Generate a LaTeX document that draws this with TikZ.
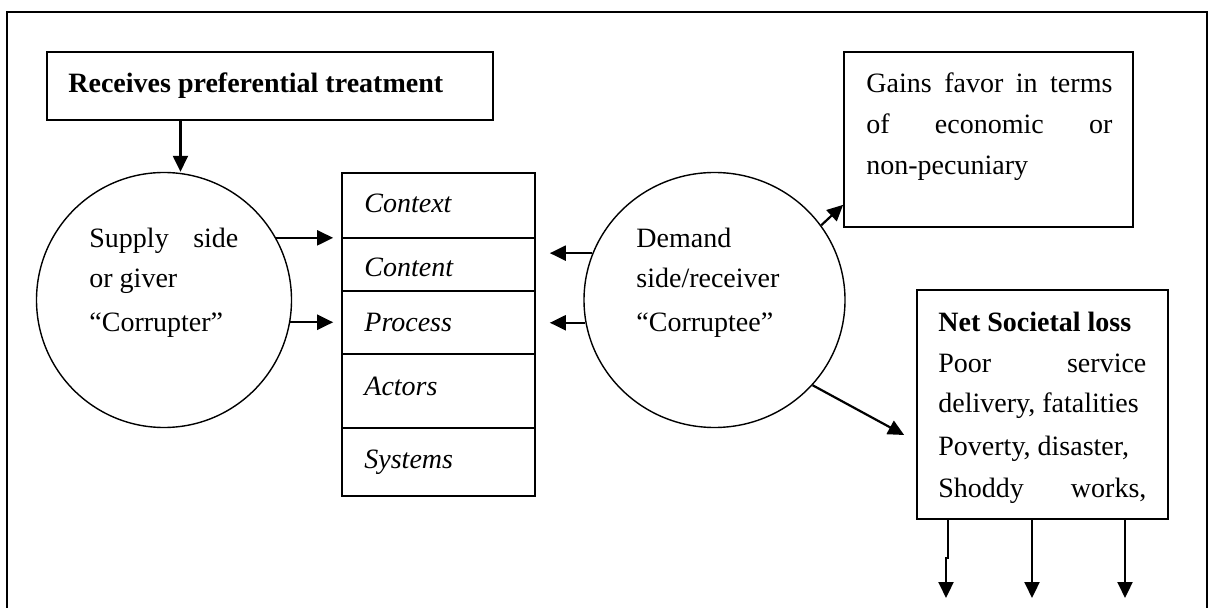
\documentclass[tikz,border=0pt]{standalone}
\usepackage{fontspec}
\setmainfont{Liberation Serif}
\usetikzlibrary{arrows.meta,calc,fit,shapes.geometric}
\begin{document}
\begin{tikzpicture}[x=0.5pt,y=-0.5pt,
  box/.style={draw,line width=0.85pt,inner sep=0pt},
  ring/.style={draw,line width=0.7pt,inner sep=0pt},
  arr/.style={line width=1.1pt,-{Triangle[length=8pt,width=7.5pt]}},
  txt/.style={anchor=base west,inner sep=0pt,font=\fontsize{14}{16}\selectfont},
  btxt/.style={txt,font=\fontsize{14}{16}\selectfont\bfseries},
  itxt/.style={txt,font=\fontsize{14}{16}\selectfont\itshape},
]
\useasboundingbox (0,0) rectangle (1213,608);
\draw[line width=0.75pt] (7,608) -- (7,12) -- (1207,12) -- (1207,608);

% boxes
\node[box,fit={(47,52) (493,120)}] (top) {};
\node[box,fit={(844,52) (1133,227)}] (gain) {};
\node[box,fit={(917,290) (1168,519)}] (net) {};
\node[box,fit={(342,173) (535,238)}] (ctx) {};
\node[box,fit={(342,238) (535,291)}] (cnt) {};
\node[box,fit={(342,291) (535,354)}] (prc) {};
\node[box,fit={(342,354) (535,428)}] (act) {};
\node[box,fit={(342,428) (535,496)}] (sys) {};

% circles
\node[ring,circle,minimum size=127.5pt] (sup) at (164,300) {};
\node[ring,ellipse,minimum width=130.5pt,minimum height=127.5pt] (dem) at (714.5,300) {};

% texts
\node[btxt] (t1) at (68,93) {Receives preferential treatment};
\node[txt] (t2) at (89,248) {\makebox[74.5pt][s]{Supply side}};
\node[txt] (t3) at (89,288) {or giver};
\node[txt] (t4) at (89,332) {“Corrupter”};
\node[itxt] (t5) at (364,213) {Context};
\node[itxt] (t6) at (364,277) {Content};
\node[itxt] (t7) at (364,332) {Process};
\node[itxt] (t8) at (364,395) {Actors};
\node[itxt] (t9) at (364,468) {Systems};
\node[txt] (t10) at (636,248) {Demand};
\node[txt] (t11) at (636,288) {side/receiver};
\node[txt] (t12) at (636,332) {“Corruptee”};
\node[txt] (t13) at (866,93) {\makebox[123pt][s]{Gains favor in terms}};
\node[txt] (t14) at (866,134) {\makebox[123pt][s]{of economic or}};
\node[txt] (t15) at (866,175) {non-pecuniary};
\node[btxt] (t16) at (938,332) {Net Societal loss};
\node[txt] (t17) at (938,372) {\makebox[104pt][s]{Poor service}};
\node[txt] (t18) at (938,413) {delivery, fatalities};
\node[txt] (t19) at (938,455) {Poverty, disaster,};
\node[txt] (t20) at (938,497) {\makebox[104pt][s]{Shoddy works,}};

% connectors
\coordinate (ta) at ($(top.south west)!0.3!(top.south east)$);
\draw[arr] (ta) -- (ta |- sup.north);
\draw[arr,shorten >=4pt] (sup.29) -- (sup.29 -| ctx.west);
\draw[arr,shorten >=4pt] (sup.-10.4) -- (sup.-10.4 -| prc.west);
\draw[arr,shorten >=7pt] (dem.159.8) -- (dem.159.8 -| cnt.east);
\draw[arr,shorten >=7pt] (dem.190.2) -- (dem.190.2 -| prc.east);
\coordinate (gt) at ($(gain.south west)+(0,-23)$);
\draw[arr] (dem.35.5) -- (gt);
\coordinate (nt) at ($(net.west)+(-12,30.5)$);
\draw[arr] (dem.-41.4) -- (nt);
\coordinate (j1) at (948,558);
\coordinate (o1) at (946,598);
\coordinate (o2) at (1032,598);
\coordinate (o3) at (1125,598);
\draw[arr] (j1 |- net.south) -- (j1) -- (j1 -| o1) -- (o1);
\draw[arr] (o2 |- net.south) -- (o2);
\draw[arr] (o3 |- net.south) -- (o3);
\end{tikzpicture}
\end{document}
